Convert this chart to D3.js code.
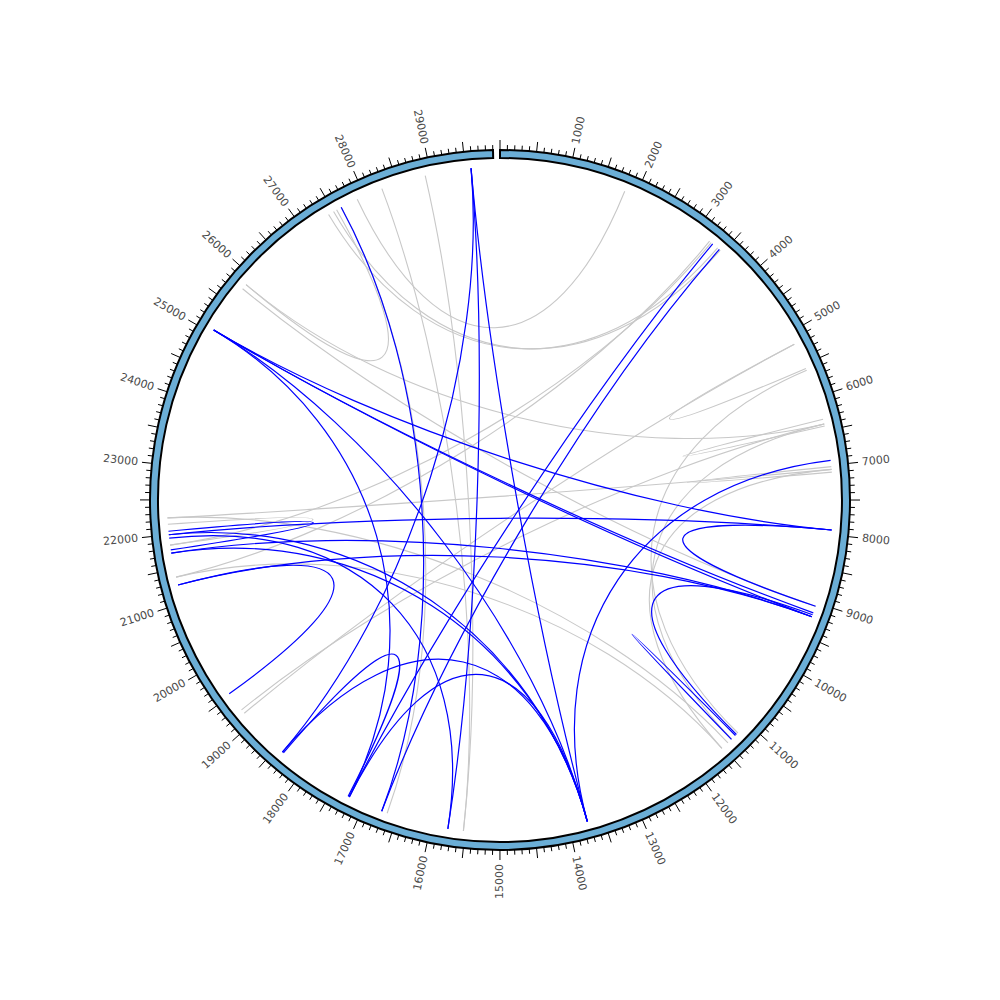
<!DOCTYPE html>
<html>
<head>
<meta charset="utf-8">
<script src="https://cdn.jsdelivr.net/npm/d3@7"></script>
<style>
  body { margin: 0; background: #fff; }
  .tick-label { font-family: "DejaVu Sans", sans-serif; font-size: 11px; fill: #4a4a4a; }
</style>
</head>
<body>
<svg id="chart" width="1000" height="1000"></svg>
<script>
// genome length and tick labels
const genomeLength = 29903;
const tickLabels = [1000, 2000, 3000, 4000, 5000, 6000, 7000, 8000, 9000, 10000,
  11000, 12000, 13000, 14000, 15000, 16000, 17000, 18000, 19000, 20000,
  21000, 22000, 23000, 24000, 25000, 26000, 27000, 28000, 29000];

// blue links (position -> position)
const blueFrom = [29583, 29583, 29583, 27625, 3308, 3433, 25058, 25058, 25058, 25058, 25058,
  6930, 7930, 7930, 11250, 22050, 21733, 21267, 21733, 21267, 22000, 18400, 21950, 18380, 17242,
  9180];
const blueTo = [13733, 18400, 15750, 16733, 17242, 16733, 7930, 9150, 9210, 13733, 17242,
  13733, 9050, 22000, 11330, 21780, 9210, 9210, 13733, 19533, 13733, 13733, 15750, 17260, 13733,
  11230];

// gray links
const grayFrom = [1833, 3400, 3450, 3250, 3280, 5175, 5590, 6400, 7060, 6330, 7020,
  25858, 25780, 22242, 19242, 19180, 28917, 28267, 27625, 21850, 21383, 22242, 25858];
const grayTo = [27883, 27417, 27500, 21383, 21850, 5560, 11200, 11325, 11517, 6430, 7100,
  6400, 9050, 7060, 6400, 5175, 15525, 15525, 16650, 22150, 11517, 11400, 27550];

const width = 1000, height = 1000;
const innerR = 342, outerR = 350, linkR = 333;
const gapAngle = 0.02;
const bend = 0.42;

const svg = d3.select('#chart');
const g = svg.append('g').attr('transform', `translate(${width / 2},${height / 2})`);

const angle = d3.scaleLinear()
  .domain([0, genomeLength])
  .range([0, 2 * Math.PI - gapAngle]);

function point(pos, r) {
  const a = angle(pos);
  return [r * Math.sin(a), -r * Math.cos(a)];
}

function linkPath(a, b) {
  const p0 = point(a, linkR), p3 = point(b, linkR);
  const c1 = point(a, linkR * bend), c2 = point(b, linkR * bend);
  const p = d3.path();
  p.moveTo(p0[0], p0[1]);
  p.bezierCurveTo(c1[0], c1[1], c2[0], c2[1], p3[0], p3[1]);
  return p.toString();
}

// links: gray below, blue above
g.append('g').selectAll('path')
  .data(d3.zip(grayFrom, grayTo))
  .join('path')
  .attr('d', ([a, b]) => linkPath(a, b))
  .attr('fill', 'none')
  .attr('stroke', '#c8c8c8')
  .attr('stroke-width', 1.1);

g.append('g').selectAll('path')
  .data(d3.zip(blueFrom, blueTo))
  .join('path')
  .attr('d', ([a, b]) => linkPath(a, b))
  .attr('fill', 'none')
  .attr('stroke', '#0000ff')
  .attr('stroke-width', 1.2);

// genome ring
const arc = d3.arc()
  .innerRadius(innerR)
  .outerRadius(outerR)
  .startAngle(0)
  .endAngle(2 * Math.PI - gapAngle);

g.append('path')
  .attr('d', arc())
  .attr('fill', '#6baed6')
  .attr('stroke', '#000')
  .attr('stroke-width', 2);

// ticks every 100, long ones every 500
const ticks = d3.range(0, genomeLength, 100);
g.append('g').selectAll('line')
  .data(ticks)
  .join('line')
  .attr('x1', (d) => point(d, outerR)[0])
  .attr('y1', (d) => point(d, outerR)[1])
  .attr('x2', (d) => point(d, outerR + (d % 500 === 0 ? 10 : 5))[0])
  .attr('y2', (d) => point(d, outerR + (d % 500 === 0 ? 10 : 5))[1])
  .attr('stroke', '#000')
  .attr('stroke-width', 1);

// tick labels
g.append('g').selectAll('text')
  .data(tickLabels)
  .join('text')
  .attr('class', 'tick-label')
  .attr('transform', (d) => {
    const deg = angle(d) * 180 / Math.PI;
    const [x, y] = point(d, 364);
    const rot = deg <= 180 ? deg - 90 : deg + 90;
    return `translate(${x},${y}) rotate(${rot})`;
  })
  .attr('text-anchor', (d) => (angle(d) * 180 / Math.PI <= 180 ? 'start' : 'end'))
  .attr('dominant-baseline', 'central')
  .text((d) => d);
</script>
</body>
</html>
